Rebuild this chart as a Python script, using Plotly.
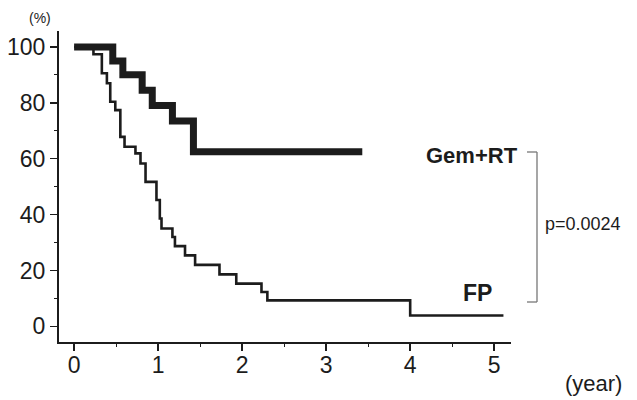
import plotly.graph_objects as go

# Data
gem_t = [0, 0.46, 0.58, 0.81, 0.93, 1.17, 1.42, 3.43]
gem_s = [100, 95.0, 90.0, 84.5, 79.0, 73.5, 62.5, 62.5]

fp_t = [0, 0.23, 0.33, 0.39, 0.43, 0.49, 0.55, 0.60, 0.73, 0.79, 0.85, 0.98,
        1.02, 1.04, 1.17, 1.20, 1.32, 1.44, 1.73, 1.93, 2.23, 2.30, 4.00, 5.11]
fp_s = [100, 97.4, 90.6, 87.0, 80.4, 77.4, 67.8, 64.3, 61.9, 58.3, 51.7, 45.2,
        38.6, 35.0, 32.0, 28.7, 25.4, 22.0, 18.6, 15.3, 12.3, 9.3, 3.9, 3.9]

x_ticks = [0, 1, 2, 3, 4, 5]
y_ticks = [0, 20, 40, 60, 80, 100]
p_text = "p=0.0024"

W, H = 637, 400
L, R, T, B = 59, 126, 31, 58
X_RANGE = [-0.18, 5.2]
Y_RANGE = [-5.6, 105.7]
PW, PH = W - L - R, H - T - B

fig = go.Figure()
fig.add_trace(go.Scatter(x=fp_t, y=fp_s, mode="lines", line_shape="hv",
                         line=dict(color="#1c1c1c", width=2.6), showlegend=False))
fig.add_trace(go.Scatter(x=gem_t, y=gem_s, mode="lines", line_shape="hv",
                         line=dict(color="#1c1c1c", width=7), showlegend=False))

font_main = "Liberation Sans, Arial, sans-serif"

fig.update_layout(
    width=W, height=H,
    margin=dict(l=L, r=R, t=T, b=B, autoexpand=False),
    paper_bgcolor="white", plot_bgcolor="white",
    font=dict(family=font_main, color="#1c1c1c"),
    xaxis=dict(range=X_RANGE, tickvals=x_ticks, ticktext=[str(v) for v in x_ticks],
               automargin=False, ticklabelstandoff=-6,
               showgrid=False, zeroline=False, showline=True, linecolor="#1c1c1c",
               linewidth=2, ticks="outside", ticklen=7, tickwidth=1.5, tickcolor="#1c1c1c",
               tickfont=dict(size=23, family=font_main, color="#1c1c1c"),
               minor=dict(dtick=0.5, tick0=0.5, ticks="outside", ticklen=3, tickwidth=1.2,
                          tickcolor="#1c1c1c", showgrid=False),
               fixedrange=True),
    yaxis=dict(range=Y_RANGE, tickvals=y_ticks, ticktext=[str(v) for v in y_ticks],
               automargin=False,
               showgrid=False, zeroline=False, showline=True, linecolor="#1c1c1c",
               linewidth=2, ticks="outside", ticklen=7, tickwidth=1.5, tickcolor="#1c1c1c",
               tickfont=dict(size=23, family=font_main, color="#1c1c1c"),
               minor=dict(dtick=10, tick0=10, ticks="outside", ticklen=3, tickwidth=1.2,
                          tickcolor="#1c1c1c", showgrid=False),
               fixedrange=True),
)

def px_x(px):
    return (px - L) / PW

def px_y(py):
    return 1 - (py - T) / PH

annos = [
    dict(text="(%)", x=40, y=18, size=14),
    dict(text="(year)", x=593, y=383, size=22),
    dict(text="<b>Gem+RT</b>", x=472, y=155, size=22),
    dict(text="<b>FP</b>", x=477, y=293, size=23),
    dict(text=p_text, x=583, y=224, size=18),
]
for a in annos:
    fig.add_annotation(text=a["text"], x=px_x(a["x"]), y=px_y(a["y"]), xref="paper", yref="paper",
                       xanchor="center", yanchor="middle", showarrow=False,
                       font=dict(size=a["size"], family=font_main, color="#1c1c1c"))

# Bracket
for x0, y0, x1, y1 in [(537, 152, 537, 302), (527, 152, 537, 152), (527, 302, 537, 302)]:
    fig.add_shape(type="line", xref="paper", yref="paper",
                  x0=px_x(x0), y0=px_y(y0), x1=px_x(x1), y1=px_y(y1),
                  line=dict(color="#777777", width=1.3))

fig.write_html("out.html", config={"displayModeBar": False, "staticPlot": True},
               post_script="document.body.style.margin='0px';")
